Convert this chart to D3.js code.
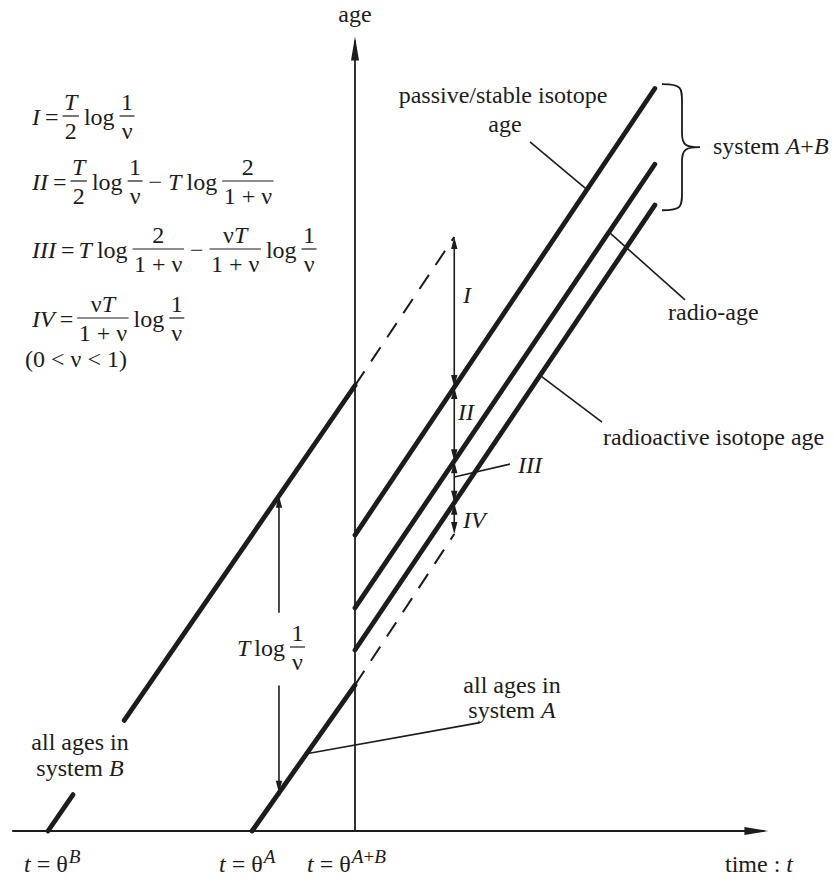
<!DOCTYPE html>
<html>
<head>
<meta charset="utf-8">
<script src="https://cdn.jsdelivr.net/npm/d3@7"></script>
<style>
  body { margin: 0; background: #fff; }
  svg { display: block; }
  text { font-family: "Liberation Serif", "Times New Roman", serif; fill: #1c1c1c; }
</style>
</head>
<body>
<svg id="chart" width="834" height="881"></svg>
<script>
// ---- data: times (t) and ages of the age lines ------------------------
// origin times of the systems
const originKeys  = ["B", "A", "A+B"];
const originTimes = [0, 2, 3];

// age lines given as [t, age] end points
const systemBLine       = [[0, 0], [3, 3.0]];
const systemBGap        = [0.245, 0.745];          // t range left open for its label
const systemBDashed     = [[3, 3.0], [3.97, 4.0]];
const systemALine       = [[1.994, 0], [3, 0.983]];
const systemADashed     = [[3, 0.983], [3.97, 2.0]];
const passiveLine       = [[3, 1.993], [5.93, 5.0]];
const radioLine         = [[3, 1.502], [5.93, 4.49]];
const radioactiveLine   = [[3, 1.219], [5.93, 4.215]];

// measuring arrow at t = 3.97, split where it meets each line
const measureT      = 3.97;
const measureAges   = [4.0, 2.99, 2.49, 2.21, 2.0];
const measureLabels = ["I", "II", "III", "IV"];

// "T log 1/ν" arrow between system B and system A
const tlogT    = 2.257;
const tlogAges = [2.257, 1.47, 0.98, 0.257];

// axis extents
const timeExtent = [-0.35, 7.04];
const ageExtent  = [0, 5.35];

// ---- scales ------------------------------------------------------------
const x = d3.scaleLinear().domain([0, 3]).range([48, 355]);
const y = d3.scaleLinear().domain([0, 5]).range([831, 88.5]);

const svg = d3.select("#chart");
const ink = "#1c1c1c";
const FS = 24;

const line = d3.line().x(d => x(d[0])).y(d => y(d[1]));

function lerpLine(seg, t) {
  const [a, b] = seg;
  return a[1] + (b[1] - a[1]) * (t - a[0]) / (b[0] - a[0]);
}

function arrowHead(g, tipX, tipY, dx, dy, len, hw) {
  const n = Math.hypot(dx, dy); dx /= n; dy /= n;
  const bx = tipX - dx * len, by = tipY - dy * len;
  const px = -dy, py = dx;
  g.append("path")
    .attr("d", `M${tipX},${tipY}L${bx + px * hw},${by + py * hw}L${bx - px * hw},${by - py * hw}Z`)
    .attr("fill", ink);
}

// ---- axes ----------------------------------------------------------------
const axes = svg.append("g");
axes.append("line")
  .attr("x1", x(timeExtent[0])).attr("x2", x(timeExtent[1]) - 4)
  .attr("y1", y(0)).attr("y2", y(0))
  .attr("stroke", ink).attr("stroke-width", 1.8);
arrowHead(axes, x(timeExtent[1]), y(0), 1, 0, 24, 4);
axes.append("line")
  .attr("x1", x(3)).attr("x2", x(3))
  .attr("y1", y(0)).attr("y2", y(ageExtent[1]) + 4)
  .attr("stroke", ink).attr("stroke-width", 1.8);
arrowHead(axes, x(3), y(ageExtent[1]), 0, -1, 24, 4);

// ---- age lines -----------------------------------------------------------
const thick = svg.append("g")
  .attr("fill", "none").attr("stroke", ink)
  .attr("stroke-width", 4.8).attr("stroke-linecap", "round");

const bLow  = [systemBLine[0], [systemBGap[0], lerpLine(systemBLine, systemBGap[0])]];
const bHigh = [[systemBGap[1], lerpLine(systemBLine, systemBGap[1])], systemBLine[1]];
[bLow, bHigh, systemALine, passiveLine, radioLine, radioactiveLine].forEach(seg =>
  thick.append("path").attr("d", line(seg)));

const dashed = svg.append("g")
  .attr("fill", "none").attr("stroke", ink)
  .attr("stroke-width", 2).attr("stroke-dasharray", "17 12");
[systemBDashed, systemADashed].forEach(seg =>
  dashed.append("path").attr("d", line(seg)));

// ---- measuring arrows ----------------------------------------------------
const thin = svg.append("g");
function doubleArrow(t, a0, a1, headTop, headBottom) {
  const xx = x(t), y0 = y(a0), y1 = y(a1);
  thin.append("line").attr("x1", xx).attr("x2", xx)
    .attr("y1", y0 + (headTop ? 6 : 0)).attr("y2", y1 - (headBottom ? 6 : 0))
    .attr("stroke", ink).attr("stroke-width", 1.6);
  if (headTop) arrowHead(thin, xx, y0, 0, -1, 12, 3.2);
  if (headBottom) arrowHead(thin, xx, y1, 0, 1, 12, 3.2);
}
for (let i = 0; i < measureAges.length - 1; i++) {
  doubleArrow(measureT, measureAges[i], measureAges[i + 1], true, true);
}
doubleArrow(tlogT, tlogAges[0], tlogAges[1], true, false);
doubleArrow(tlogT, tlogAges[2], tlogAges[3], false, true);

// ---- text helpers --------------------------------------------------------
// a run is [text, "i"|"r", "sup"?]; a fraction is {num: runs, den: runs}
function runsText(g, runs, xx, yy, size, anchor) {
  const t = g.append("text").attr("x", xx).attr("y", yy)
    .attr("font-size", size).attr("text-anchor", anchor || "start");
  let raised = false;
  runs.forEach(r => {
    const s = t.append("tspan").text(r[0]);
    if (r[1] === "i") s.attr("font-style", "italic");
    if (r[2] === "sup") {
      s.attr("font-size", size * 0.8);
      if (!raised) { s.attr("dy", -9).attr("dx", 1); raised = true; }
    }
  });
  return t;
}
function formula(g, x0, base, items, size) {
  let cx = x0;
  items.forEach(it => {
    if (it.gap !== undefined) { cx += it.gap; return; }
    if (it.num) {
      const bar = base - 9;
      const n = runsText(g, it.num, 0, bar - 6, size);
      const d = runsText(g, it.den, 0, bar + 23, size);
      const wn = n.node().getComputedTextLength();
      const wd = d.node().getComputedTextLength();
      const w = Math.max(wn, wd) + 3;
      n.attr("x", cx + w / 2).attr("text-anchor", "middle");
      d.attr("x", cx + w / 2).attr("text-anchor", "middle");
      g.append("line").attr("x1", cx).attr("x2", cx + w)
        .attr("y1", bar).attr("y2", bar)
        .attr("stroke", ink).attr("stroke-width", 1.2);
      cx += w;
    } else {
      const t = runsText(g, it.runs, cx, base, size);
      cx += t.node().getComputedTextLength();
    }
  });
  return cx;
}
const R = s => ({ runs: [[s, "r"]] });
const I = s => ({ runs: [[s, "i"]] });
const G = v => ({ gap: v });
const F = (num, den) => ({ num, den });

const oneOverNu = F([["1", "r"]], [["ν", "r"]]);
const tOver2    = F([["T", "i"]], [["2", "r"]]);
const twoOver   = F([["2", "r"]], [["1 + ν", "r"]]);
const nuTOver   = F([["ν", "r"], ["T", "i"]], [["1 + ν", "r"]]);

const formulaRows = [
  [I("I"), G(5), R("="), G(4), tOver2, G(5), R("log"), G(5), oneOverNu],
  [I("II"), G(5), R("="), G(4), tOver2, G(5), R("log"), G(5), oneOverNu, G(6), R("−"), G(6), I("T"), G(5), R("log"), G(5), twoOver],
  [I("III"), G(5), R("="), G(4), I("T"), G(5), R("log"), G(5), twoOver, G(6), R("−"), G(6), nuTOver, G(5), R("log"), G(5), oneOverNu],
  [I("IV"), G(5), R("="), G(4), nuTOver, G(5), R("log"), G(5), oneOverNu]
];
const formulaBase = [125, 190, 258, 327];

const eq = svg.append("g");
formulaRows.forEach((row, i) => formula(eq, 32, formulaBase[i], row, FS));
formula(eq, 25, 367, [R("(0 < ν < 1)")], FS);

// "T log 1/ν" next to its arrow
formula(svg.append("g"), 237, 656, [I("T"), G(4), R("log"), G(5), oneOverNu], FS);

// ---- labels ----------------------------------------------------------------
const lab = svg.append("g").attr("font-size", FS);
runsText(lab, [["age", "r"]], x(3), 22, FS, "middle");
runsText(lab, [["passive/stable isotope", "r"]], 503, 103, FS, "middle");
runsText(lab, [["age", "r"]], 505, 132, FS, "middle");
runsText(lab, [["system ", "r"], ["A", "i"], ["+", "r"], ["B", "i"]], 713, 154, FS);
runsText(lab, [["radio-age", "r"]], 668, 320, FS);
runsText(lab, [["radioactive isotope age", "r"]], 603, 445, FS);
runsText(lab, [["all ages in", "r"]], 80, 750, FS, "middle");
runsText(lab, [["system ", "r"], ["B", "i"]], 80, 776, FS, "middle");
runsText(lab, [["all ages in", "r"]], 512, 693, FS, "middle");
runsText(lab, [["system ", "r"], ["A", "i"]], 512, 718, FS, "middle");

// segment labels of the measuring arrow
const segLabelPos = [[463, 303], [458, 420], [518, 473], [463, 528]];
measureLabels.forEach((s, i) =>
  runsText(lab, [[s, "i"]], segLabelPos[i][0], segLabelPos[i][1], FS));

// origin-time labels under the time axis
const originLabelX = [24, 219, 307];
const supRuns = k => k.split(/(\+)/).filter(s => s).map(s => [s, s === "+" ? "r" : "i", "sup"]);
originKeys.forEach((k, i) => {
  runsText(lab, [["t", "i"], [" = θ", "r"], ...supRuns(k)], originLabelX[i], 872, FS);
});
runsText(lab, [["time : ", "r"], ["t", "i"]], 725, 872, FS);

// ---- leader lines ------------------------------------------------------------
// each: from a point on a line (t, age) to a free end (t, age)
const leaders = [
  [[5.267, lerpLine(passiveLine, 5.267)], [4.71, 4.64]],
  [[5.482, lerpLine(radioLine, 5.482)], [6.225, 3.576]],
  [[4.808, lerpLine(radioactiveLine, 4.808)], [5.414, 2.754]],
  [[measureT, 2.384], [4.515, 2.471]],
  [[2.526, lerpLine(systemALine, 2.526)], [4.22, 0.73]]
];
const lead = svg.append("g").attr("stroke", ink).attr("stroke-width", 1.6).attr("fill", "none");
leaders.forEach(l => lead.append("path").attr("d", line(l)));

// ---- brace grouping the three A+B lines ----------------------------------------
const braceT = 6.0, braceTop = 5.03, braceBot = 4.18;
{
  const bx = x(braceT), yt = y(braceTop), yb = y(braceBot), ym = (yt + yb) / 2;
  const d = 20, tip = 38;
  const p = `M${bx},${yt} C${bx + d},${yt} ${bx + d},${yt + 4} ${bx + d},${yt + 18}
             L${bx + d},${ym - 14} C${bx + d},${ym - 2} ${bx + d + 4},${ym} ${bx + tip},${ym}
             C${bx + d + 4},${ym} ${bx + d},${ym + 2} ${bx + d},${ym + 14}
             L${bx + d},${yb - 18} C${bx + d},${yb - 4} ${bx + d},${yb} ${bx},${yb}`;
  svg.append("path").attr("d", p).attr("fill", "none").attr("stroke", ink).attr("stroke-width", 1.8);
}
</script>
</body>
</html>
